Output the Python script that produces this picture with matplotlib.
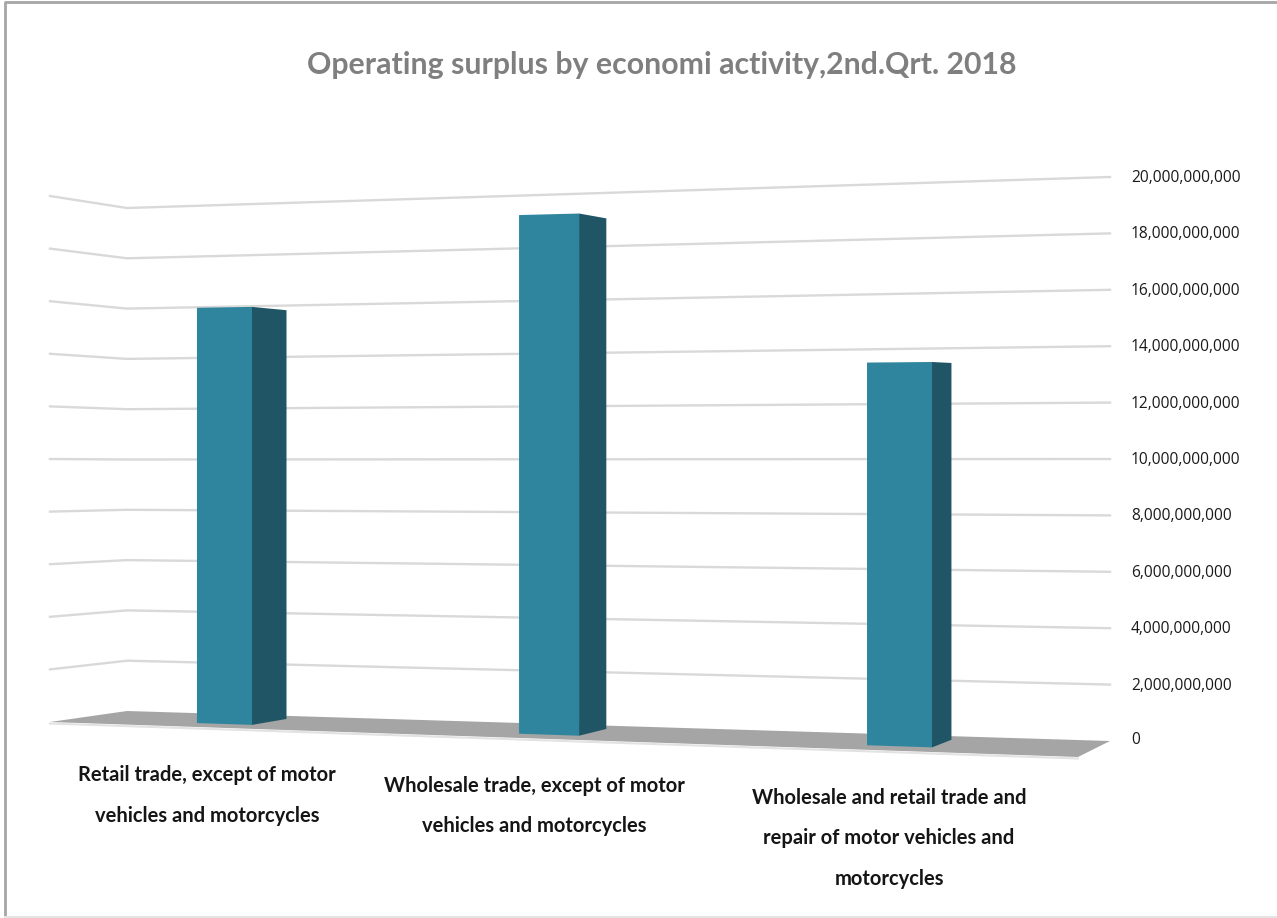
#!/usr/bin/env python
"""
Operating surplus by economic activity, drawn as a 3D style column chart.
"""

import numpy as np
import matplotlib
matplotlib.use('Agg')
import matplotlib.pyplot as plt

title = 'Operating surplus by economi activity,2nd.Qrt. 2018'
categories = ['Retail trade, except of motor\nvehicles and motorcycles',
              'Wholesale trade, except of motor\nvehicles and motorcycles',
              'Wholesale and retail trade and\nrepair of motor vehicles and\nmotorcycles']
surplus = [15750000000, 18950000000, 13450000000]
tick_values = [0, 2000000000, 4000000000, 6000000000, 8000000000, 10000000000,
               12000000000, 14000000000, 16000000000, 18000000000, 20000000000]

# layout of the box, in pixels
VMAX = 20000000000.
floor_bl, floor_br = (127, 711), (1110, 741)
floor_fl, floor_fr = (50, 722), (1078, 757)
wall_h = {'bl': 503, 'br': 564, 'fl': 526, 'fr': 590}

bar_left = [.1235, .4407, .7834]
bar_right = [.1777, .4998, .8474]
bar_front = .72
bar_back = .22


def project(t, d, v):
    """t along the floor, d from back wall to front, v the value"""
    bx = (1-d)*((1-t)*floor_bl[0] + t*floor_br[0]) + d*((1-t)*floor_fl[0] + t*floor_fr[0])
    by = (1-d)*((1-t)*floor_bl[1] + t*floor_br[1]) + d*((1-t)*floor_fl[1] + t*floor_fr[1])
    h = (1-d)*((1-t)*wall_h['bl'] + t*wall_h['br']) + d*((1-t)*wall_h['fl'] + t*wall_h['fr'])
    return bx, by - h*v/VMAX


def poly(*pts):
    return [p[0] for p in pts], [p[1] for p in pts]


fig = plt.figure(figsize=(12.77, 9.18), dpi=100)
ax = fig.add_axes([0, 0, 1, 1])
ax.set_xlim(0, 1277)
ax.set_ylim(918, 0)
ax.axis('off')

# chart frame
ax.plot([5, 5, 1277], [918, 2, 2], color='#a6a6a6', lw=2)
ax.plot([5, 1277], [917, 917], color='#e4e4e4', lw=1.5)

# gridlines on back and side wall
for v in tick_values[1:]:
    xs, ys = poly(project(0, 1, v), project(0, 0, v), project(1, 0, v))
    ax.plot(xs, ys, color='#d9d9d9', lw=1.7, solid_joinstyle='miter', zorder=1)

# floor
xs, ys = poly(project(0, 1, 0), project(0, 0, 0), project(1, 0, 0), project(1, 1, 0))
ax.fill(xs, ys, color='#a5a5a5', lw=0, zorder=2)
xs, ys = poly(project(0, 1, 0), project(1, 1, 0))
ax.plot(xs, np.array(ys)+1.5, color='#e2e2e2', lw=1.5, zorder=2)

# columns
for val, t0, t1 in zip(surplus, bar_left, bar_right):
    xs, ys = poly(project(t1, bar_front, 0), project(t1, bar_back, 0),
                  project(t1, bar_back, val), project(t1, bar_front, val))
    ax.fill(xs, ys, color='#1f5565', lw=0, zorder=3)
    xs, ys = poly(project(t0, bar_front, 0), project(t1, bar_front, 0),
                  project(t1, bar_front, val), project(t0, bar_front, val))
    ax.fill(xs, ys, color='#30859e', lw=0, zorder=4)

# value axis labels
for v in tick_values:
    x, y = project(1, 0, v)
    ax.text(1131, y+1 if v else y-1, '{:,}'.format(v), ha='left', va='center',
            fontsize=11.2, color='#1a1a1a', family='Open Sans')

# category labels, one text per line as they are widely spaced
label_x = [207, 534, 889]
label_y = [775, 786, 798]
for cat, x, y in zip(categories, label_x, label_y):
    for i, line in enumerate(cat.split('\n')):
        ax.text(x, y + i*40.5, line, ha='center', va='center', fontsize=14.5,
                fontweight='bold', color='#151515', family='Lato')

ax.text(662, 65, title, ha='center', va='center', fontsize=21.8, fontweight='bold',
        color='#7f7f7f', family='Lato')

fig.savefig('out.png', dpi=100)
